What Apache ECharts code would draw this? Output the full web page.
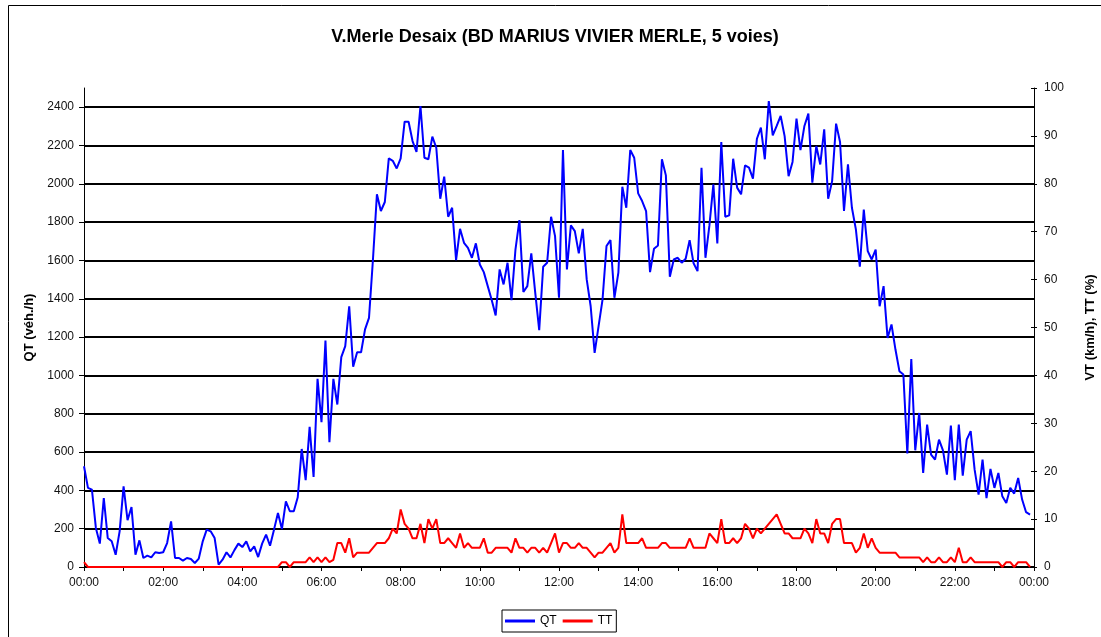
<!DOCTYPE html>
<html>
<head>
<meta charset="utf-8">
<script src="https://cdn.jsdelivr.net/npm/echarts@6/dist/echarts.min.js"></script>
<style>
  html, body { margin: 0; padding: 0; background: #fff; }
  #chart { width: 1101px; height: 637px; }
</style>
</head>
<body>
<div id="chart"></div>
<script>
// 6-minute steps, 00:00 -> 23:54
const qt = [
  526, 413, 404, 204, 122, 360, 151, 134, 64, 186,
  421, 244, 313, 64, 139, 47, 59, 50, 77, 73,
  77, 125, 238, 47, 47, 33, 47, 42, 21, 44,
  134, 195, 186, 151, 12, 38, 77, 50, 88, 122,
  104, 134, 82, 108, 52, 122, 169, 111, 195, 282,
  198, 343, 291, 291, 364, 616, 453, 731, 470, 982,
  756, 1182, 651, 982, 848, 1095, 1153, 1361, 1045, 1121,
  1121, 1240, 1300, 1605, 1945, 1858, 1905, 2133, 2120, 2080,
  2133, 2324, 2324, 2223, 2166, 2406, 2136, 2128, 2246, 2188,
  1922, 2037, 1828, 1875, 1602, 1765, 1692, 1666, 1614, 1689,
  1579, 1539, 1466, 1393, 1313, 1553, 1475, 1588, 1393, 1657,
  1811, 1435, 1466, 1637, 1431, 1236, 1567, 1588, 1828, 1727,
  1405, 2176, 1553, 1783, 1753, 1637, 1765, 1501, 1361, 1118,
  1257, 1396, 1675, 1706, 1405, 1536, 1985, 1875, 2176, 2136,
  1950, 1910, 1858, 1539, 1661, 1678, 2128, 2044, 1515, 1605,
  1614, 1588, 1609, 1706, 1585, 1544, 2084, 1614, 1783, 1997,
  1689, 2218, 1828, 1835, 2131, 1980, 1945, 2096, 2084, 2027,
  2235, 2293, 2128, 2432, 2253, 2302, 2354, 2249, 2040, 2114,
  2340, 2176, 2302, 2366, 2006, 2197, 2101, 2284, 1922, 2014,
  2314, 2218, 1858, 2101, 1875, 1762, 1567, 1866, 1649, 1605,
  1657, 1361, 1466, 1196, 1266, 1135, 1022, 1005, 592, 1086,
  609, 804, 491, 743, 587, 561, 665, 609, 482, 738,
  453, 743, 477, 665, 709, 508, 378, 561, 360, 512,
  413, 491, 369, 334, 413, 383, 465, 352, 286, 273
]
const tt = [
  1, 0, 0, 0, 0, 0, 0, 0, 0, 0,
  0, 0, 0, 0, 0, 0, 0, 0, 0, 0,
  0, 0, 0, 0, 0, 0, 0, 0, 0, 0,
  0, 0, 0, 0, 0, 0, 0, 0, 0, 0,
  0, 0, 0, 0, 0, 0, 0, 0, 0, 0,
  1, 1, 0, 1, 1, 1, 1, 2, 1, 2,
  1, 2, 1, 1.5, 5, 5, 3, 6, 2, 3,
  3, 3, 3, 4, 5, 5, 5, 6, 8, 7,
  12, 9, 8, 6, 6, 9, 5, 10, 8, 10,
  5, 5, 6, 5, 4, 7, 4, 5, 4, 4,
  4, 6, 3, 3, 4, 4, 4, 4, 3, 6,
  4, 4, 3, 4, 4, 3, 4, 3, 5, 7,
  3, 5, 5, 4, 4, 5, 4, 4, 3, 2,
  3, 3, 4, 5, 3, 4, 11, 5, 5, 5,
  5, 6, 4, 4, 4, 4, 5, 5, 4, 4,
  4, 4, 4, 6, 4, 4, 4, 4, 7, 6,
  5, 10, 5, 5, 6, 5, 6, 9, 8, 6,
  8, 7, 8, 9, 10, 11, 9, 7, 7, 6,
  6, 6, 8, 7, 5, 10, 7, 7, 5, 9,
  10, 10, 5, 5, 5, 3, 4, 7, 4, 6,
  4, 3, 3, 3, 3, 3, 2, 2, 2, 2,
  2, 2, 1, 2, 1, 1, 2, 1, 1, 2,
  1, 4, 1, 1, 2, 1, 1, 1, 1, 1,
  1, 1, 0, 1, 1, 0, 1, 1, 1, 0
]
const qtTicks = [0, 200, 400, 600, 800, 1000, 1200, 1400, 1600, 1800, 2000, 2200, 2400]

const times = []
for (let m = 0; m <= 1440; m += 6) {
  const h = Math.floor(m / 60) % 24
  const mm = m % 60
  times.push(String(h).padStart(2, '0') + ':' + String(mm).padStart(2, '0'))
}

const font = '"Liberation Sans", Arial, sans-serif'

const option = {
  animation: false,
  backgroundColor: '#fff',
  textStyle: { fontFamily: font },
  title: {
    text: 'V.Merle Desaix (BD MARIUS VIVIER MERLE, 5 voies)',
    left: 550,
    textAlign: 'center',
    top: 23,
    textStyle: { fontFamily: font, fontSize: 18, fontWeight: 'bold', color: '#000' }
  },
  graphic: [{
    type: 'rect',
    shape: { x: 8.5, y: 5.5, width: 1200, height: 800 },
    style: { fill: 'none', stroke: '#000', lineWidth: 1 },
    silent: true
  }],
  legend: {
    data: ['QT', 'TT'],
    left: 502,
    top: 610,
    padding: [5, 4, 5, 3],
    borderColor: '#000',
    borderWidth: 1,
    itemWidth: 30,
    itemHeight: 3,
    itemGap: 6,
    icon: 'rect',
    textStyle: { fontFamily: font, fontSize: 12, color: '#000' }
  },
  grid: { left: 84, right: 67, top: 88, bottom: 70, containLabel: false, outerBoundsMode: 'none' },
  xAxis: {
    type: 'category',
    boundaryGap: false,
    data: times,
    axisLine: { lineStyle: { color: '#000', width: 1 } },
    axisTick: { interval: 9, length: 4, lineStyle: { color: '#000' } },
    axisLabel: { interval: 19, margin: 10, fontSize: 12, color: '#111', fontFamily: font },
    splitLine: { show: false }
  },
  yAxis: [
    {
      type: 'value',
      min: 0,
      max: 2500,
      interval: 200,
      name: 'QT (véh./h)',
      nameLocation: 'middle',
      nameRotate: 90,
      nameGap: 34,
      nameTextStyle: { fontFamily: font, fontSize: 13, fontWeight: 'bold', color: '#000' },
      axisLine: { show: true, lineStyle: { color: '#000', width: 1 } },
      axisTick: { show: true, length: 5, customValues: qtTicks, lineStyle: { color: '#000' } },
      axisLabel: {
        margin: 10, fontSize: 12, color: '#111', fontFamily: font,
        customValues: qtTicks,
        formatter: v => String(v)
      },
      splitLine: { show: true, lineStyle: { color: '#000', width: 2 } }
    },
    {
      type: 'value',
      min: 0,
      max: 100,
      interval: 10,
      position: 'right',
      name: 'VT (km/h), TT (%)',
      nameLocation: 'middle',
      nameRotate: 90,
      nameGap: 50,
      nameTextStyle: { fontFamily: font, fontSize: 13, fontWeight: 'bold', color: '#000' },
      axisLine: { show: true, lineStyle: { color: '#000', width: 1 } },
      axisTick: { show: true, length: 3, lineStyle: { color: '#000' } },
      axisLabel: { margin: 10, fontSize: 12, color: '#111', fontFamily: font },
      splitLine: { show: false }
    },
    {
      // inner half of the crossing ticks on the right axis
      type: 'value',
      min: 0,
      max: 100,
      interval: 10,
      position: 'right',
      axisLine: { show: false },
      axisTick: { show: true, inside: true, length: 3, lineStyle: { color: '#000' } },
      axisLabel: { show: false },
      splitLine: { show: false }
    }
  ],
  series: [
    {
      name: 'QT',
      type: 'line',
      yAxisIndex: 0,
      data: qt,
      symbol: 'none',
      color: '#0000ff',
      lineStyle: { color: '#0000ff', width: 2 }
    },
    {
      name: 'TT',
      type: 'line',
      yAxisIndex: 1,
      data: tt,
      symbol: 'none',
      color: '#ff0000',
      lineStyle: { color: '#ff0000', width: 2 }
    }
  ]
}

const chart = echarts.init(document.getElementById('chart'))
chart.setOption(option)
window.addEventListener('resize', () => chart.resize())
</script>
</body>
</html>
